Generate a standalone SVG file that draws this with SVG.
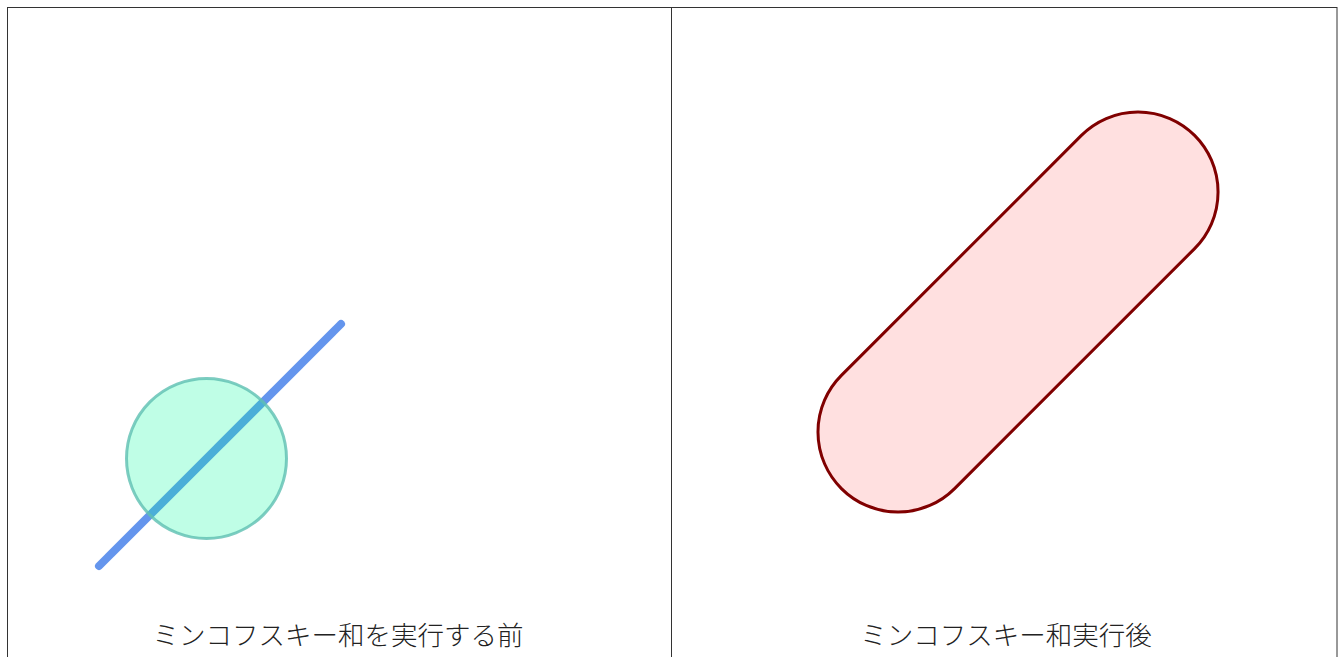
<svg xmlns="http://www.w3.org/2000/svg" width="1342" height="657" viewBox="0 0 1342 657">
<style>
.panel{fill:#fff;stroke:#333;stroke-width:1}
.label{font-family:"Noto Sans CJK JP","Noto Sans CJK SC",sans-serif;font-size:26.5px;font-weight:300;fill:#222;text-anchor:middle}
</style>
<rect width="1342" height="657" fill="#fff"/>
<g id="panel-before">
<rect class="panel" x="7.5" y="7.5" width="664" height="700"/>
<line x1="99" y1="566" x2="341" y2="324" stroke="#6495ED" stroke-width="8" stroke-linecap="round"/>
<circle cx="206.5" cy="458.5" r="80" fill="#00FA9A" fill-opacity="0.25" stroke="#5EBFB2" stroke-opacity="0.8" stroke-width="3"/>
<text class="label" x="338" y="645">ミンコフスキー和を実行する前</text>
</g>
<g id="panel-after">
<rect class="panel" x="671.5" y="7.5" width="665.5" height="700"/>
<path d="M954.6,488.6 L1194.6,248.6 A80,80 0 0 0 1081.4,135.4 L841.4,375.4 A80,80 0 0 0 954.6,488.6 Z" fill="#FFE0E0" stroke="#800000" stroke-width="3"/>
<text class="label" x="1006" y="645">ミンコフスキー和実行後</text>
</g>
<g id="connectors"/>
</svg>
